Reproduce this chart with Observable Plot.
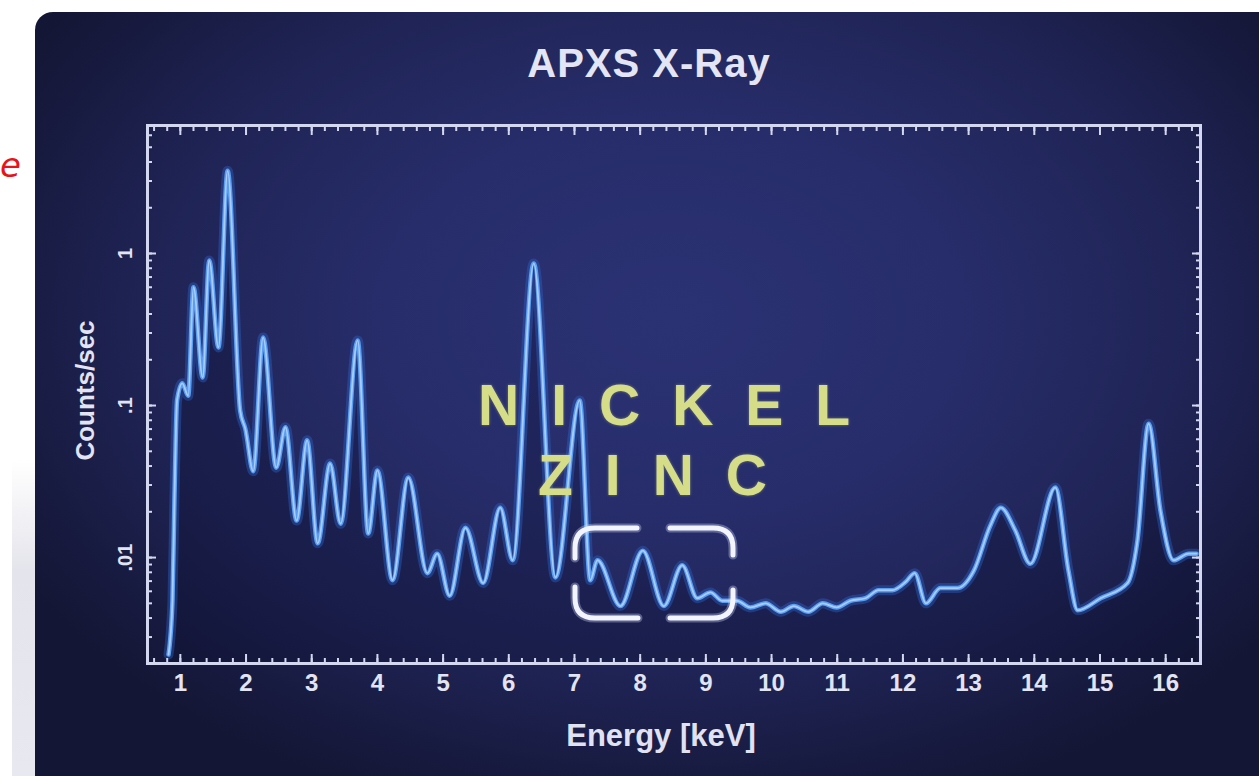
<!DOCTYPE html>
<html>
<head>
<meta charset="utf-8">
<script src="https://cdn.jsdelivr.net/npm/d3@7"></script>
<script src="https://cdn.jsdelivr.net/npm/@observablehq/plot@0.6"></script>
<style>
html,body{margin:0;padding:0;background:#fff;width:1259px;height:776px;overflow:hidden;font-family:"Liberation Sans",Arial,sans-serif;}
#strip{position:absolute;left:12px;top:460px;width:23px;height:316px;background:linear-gradient(#ffffff,#e4e4ec 35%,#e8e8f0);}
#note{position:absolute;left:0px;top:148px;color:#e8141b;font:italic 34px "DejaVu Sans",sans-serif;line-height:1;}
#panel{position:absolute;left:35px;top:12px;width:1224px;height:764px;border-top-left-radius:18px;overflow:hidden;
  background:radial-gradient(ellipse 62% 68% at 52% 40%, #2b3274 0%, #272d6a 38%, #1f2354 70%, #171a3e 90%, #131634 100%);}
#chart{position:absolute;left:0;top:0;}
.t{position:absolute;white-space:nowrap;line-height:1;font-weight:bold;}
#title{left:279px;top:31px;width:670px;text-align:center;font-size:40px;letter-spacing:1px;color:#e3e5f4;}
#xlabel{left:326px;top:708px;width:600px;text-align:center;font-size:31px;color:#e0e2f2;}
.ann{color:#d6dd88;font-size:57px;letter-spacing:32px;text-shadow:0 0 3px rgba(214,221,136,0.45);}
#nickel{left:443px;top:365px;}
#zinc{left:503px;top:435px;}
#bracket{position:absolute;left:0;top:0;}
</style>
</head>
<body>
<div id="strip"></div>
<div id="note">e</div>
<div id="panel">
  <div id="chart"></div>
  <div class="t" id="title">APXS X-Ray</div>
  <div class="t" id="xlabel">Energy [keV]</div>
  <div class="t ann" id="nickel">NICKEL</div>
  <div class="t ann" id="zinc">ZINC</div>
</div>
<svg id="bracket" width="1259" height="776" fill="none" stroke-linecap="round">
  <g stroke="#cfd6ff" stroke-opacity="0.35" stroke-width="9">
    <path d="M575 558 L575 548 Q575 528 595 528 L637 528"/>
    <path d="M575 587 L575 598 Q575 618 595 618 L638 618"/>
    <path d="M670 528 L713 528 Q733 528 733 548 L733 555"/>
    <path d="M670 618 L713 618 Q733 618 733 598 L733 590"/>
  </g>
  <g stroke="#f2f4ff" stroke-width="5">
    <path d="M575 558 L575 548 Q575 528 595 528 L637 528"/>
    <path d="M575 587 L575 598 Q575 618 595 618 L638 618"/>
    <path d="M670 528 L713 528 Q733 528 733 548 L733 555"/>
    <path d="M670 618 L713 618 Q733 618 733 598 L733 590"/>
  </g>
</svg>
<script>
// ---- data ----
const energy = [0.82, 0.88, 0.91, 0.95, 1.03, 1.12, 1.20, 1.34, 1.44, 1.58,
  1.72, 1.91, 1.99, 2.11, 2.26, 2.46, 2.60, 2.77, 2.93, 3.09,
  3.28, 3.44, 3.70, 3.86, 4.00, 4.23, 4.47, 4.76, 4.91, 5.10,
  5.34, 5.61, 5.87, 6.06, 6.38, 6.71, 7.08, 7.24, 7.35, 7.70,
  8.04, 8.36, 8.64, 8.87, 9.07, 9.25, 9.47, 9.68, 9.91, 10.14,
  10.34, 10.56, 10.78, 10.99, 11.20, 11.43, 11.63, 11.84, 12.04, 12.18,
  12.35, 12.57, 12.83, 13.08, 13.33, 13.49, 13.71, 13.94, 14.32, 14.52,
  14.66, 15.01, 15.42, 15.57, 15.74, 15.92, 16.12, 16.35, 16.47];
const counts = [0.0023, 0.0052, 0.024, 0.108, 0.14, 0.116, 0.60, 0.153, 0.90, 0.241,
  3.5, 0.093, 0.07, 0.037, 0.28, 0.039, 0.072, 0.0175, 0.059, 0.0124,
  0.0415, 0.0167, 0.268, 0.0144, 0.0374, 0.0071, 0.0336, 0.0079, 0.0106, 0.0056,
  0.0157, 0.0068, 0.0213, 0.0096, 0.86, 0.0074, 0.108, 0.0071, 0.0096, 0.0048,
  0.0111, 0.0048, 0.0089, 0.0054, 0.0059, 0.0052, 0.0052, 0.0047, 0.0050, 0.0044,
  0.0048, 0.0044, 0.0050, 0.0047, 0.0052, 0.0054, 0.0061, 0.0061, 0.0069, 0.0079,
  0.0050, 0.0063, 0.0063, 0.0082, 0.0162, 0.0213, 0.0151, 0.0091, 0.0289, 0.0082,
  0.0045, 0.0054, 0.0068, 0.0129, 0.076, 0.0204, 0.0096, 0.0106, 0.0106];
const xTicks = [1,2,3,4,5,6,7,8,9,10,11,12,13,14,15,16];
const yTicks = [1, 0.1, 0.01];
const yTickLabels = ["1", ".1", ".01"];
const xDomain = [0.5, 16.53];
const yDomain = [0.00201, 6.95];

const spectrum = energy.map((e, i) => ({e, c: counts[i]}));
const xMinor = d3.range(0.6, 16.5, 0.2).map(v => +v.toFixed(2));
const yMinor = [];
for (let k = -3; k <= 0; k++) for (let m = 1; m <= 9; m++) {
  const v = m * Math.pow(10, k);
  if (v > yDomain[0] && v < yDomain[1]) yMinor.push(v);
}
const frameColor = "#d3d7ef";
const textColor = "#e2e4f3";

const chart = Plot.plot({
  width: 1224, height: 764,
  marginTop: 113, marginBottom: 113, marginLeft: 112, marginRight: 59,
  style: {background: "transparent", color: textColor, fontFamily: "Liberation Sans, Arial, sans-serif", overflow: "visible"},
  x: {domain: xDomain, axis: null},
  y: {type: "log", domain: yDomain, axis: null},
  marks: [
    Plot.areaY(spectrum, {x: "e", y1: yDomain[0], y2: "c", curve: "monotone-x", fill: "#0c0e30", fillOpacity: 0.28}),
    Plot.line(spectrum, {x: "e", y: "c", curve: "monotone-x", stroke: "#2f64c8", strokeWidth: 10, strokeOpacity: 0.4}),
    Plot.line(spectrum, {x: "e", y: "c", curve: "monotone-x", stroke: "#5c9df0", strokeWidth: 4.5}),
    Plot.line(spectrum, {x: "e", y: "c", curve: "monotone-x", stroke: "#b3d6ff", strokeWidth: 1.8, strokeOpacity: 0.85}),
    Plot.axisX(xMinor, {anchor: "bottom", tickSize: -5, tickFormat: () => "", stroke: frameColor, strokeWidth: 2, label: null}),
    Plot.axisX(xMinor, {anchor: "top", tickSize: -5, tickFormat: () => "", stroke: frameColor, strokeWidth: 2, label: null}),
    Plot.axisX(xTicks, {anchor: "bottom", tickSize: -9, tickFormat: () => "", stroke: frameColor, strokeWidth: 2, label: null}),
    Plot.axisX(xTicks, {anchor: "top", tickSize: -9, tickFormat: () => "", stroke: frameColor, strokeWidth: 2, label: null}),
    Plot.axisY(yMinor, {anchor: "left", tickSize: -5, tickFormat: () => "", stroke: frameColor, strokeWidth: 2, label: null}),
    Plot.axisY(yMinor, {anchor: "right", tickSize: -5, tickFormat: () => "", stroke: frameColor, strokeWidth: 2, label: null}),
    Plot.axisY(yTicks, {anchor: "left", tickSize: -9, tickFormat: () => "", stroke: frameColor, strokeWidth: 2, label: null}),
    Plot.axisY(yTicks, {anchor: "right", tickSize: -9, tickFormat: () => "", stroke: frameColor, strokeWidth: 2, label: null}),
    Plot.frame({stroke: frameColor, strokeWidth: 3}),
    Plot.text(xTicks, {x: d => d, frameAnchor: "bottom", dy: 27, text: d => String(d), fontSize: 24, fontWeight: "bold", fill: textColor}),
    Plot.text(yTicks, {y: d => d, frameAnchor: "left", dx: -22, rotate: -90, textAnchor: "middle", text: (d, i) => yTickLabels[i], fontSize: 20, fontWeight: "bold", fill: textColor}),
    Plot.text(["Counts/sec"], {frameAnchor: "left", dx: -62, dy: -4, rotate: -90, textAnchor: "middle", text: d => d, fontSize: 26, fontWeight: "bold", fill: textColor})
  ]
});
document.getElementById("chart").appendChild(chart);
</script>
</body>
</html>
